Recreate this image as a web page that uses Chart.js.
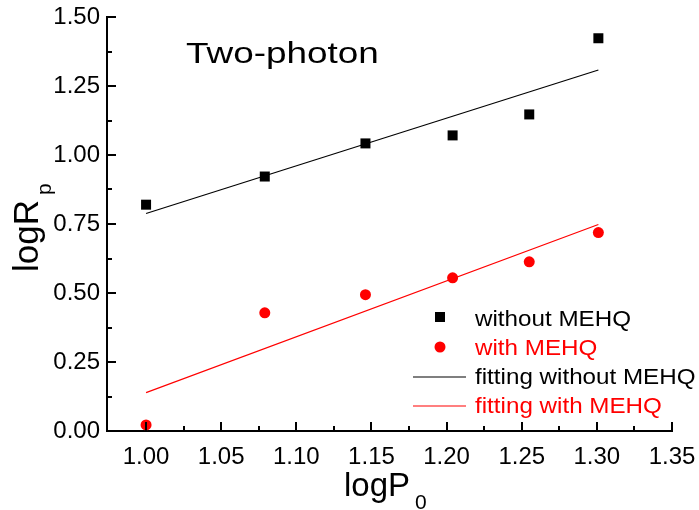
<!DOCTYPE html>
<html>
<head>
<meta charset="utf-8">
<script src="https://cdn.jsdelivr.net/npm/chart.js@4/dist/chart.umd.min.js"></script>
<style>
  html, body { margin: 0; padding: 0; background: #fff; }
  #wrap { width: 699px; height: 510px; }
</style>
</head>
<body>
<div id="wrap"><canvas id="c" width="699" height="510"></canvas></div>
<script>
// ---- data ----
const logP0 = [1.000, 1.079, 1.146, 1.204, 1.255, 1.301];
const withoutMEHQ = [0.82, 0.922, 1.042, 1.071, 1.147, 1.423];
const withMEHQ = [0.022, 0.428, 0.494, 0.555, 0.613, 0.719];
const fitX = [1.000, 1.301];
const fitWithout = [0.788, 1.308];
const fitWith = [0.139, 0.748];
const xTickValues = [1.00, 1.05, 1.10, 1.15, 1.20, 1.25, 1.30, 1.35];
const yTickValues = [0.00, 0.25, 0.50, 0.75, 1.00, 1.25, 1.50];
const legendLabels = ["without MEHQ", "with MEHQ", "fitting without MEHQ", "fitting with MEHQ"];
const annotationText = "Two-photon";

const FONT = "'Liberation Sans', Arial, Helvetica, sans-serif";
const RED = "#ff0000";

function pts(xs, ys) { return xs.map((x, i) => ({ x: x, y: ys[i] })); }

const decorPlugin = {
  id: 'decor',
  afterDraw(chart) {
    const ctx = chart.ctx;
    const xs = chart.scales.x, ys = chart.scales.y;
    const a = chart.chartArea;
    ctx.save();
    // inward ticks
    ctx.strokeStyle = '#000';
    ctx.lineWidth = 2;
    ctx.beginPath();
    xTickValues.forEach((v, i) => {
      const px = Math.round(xs.getPixelForValue(v));
      ctx.moveTo(px, a.bottom); ctx.lineTo(px, a.bottom - 9);
      if (i < xTickValues.length - 1) {
        const pm = Math.round(xs.getPixelForValue((v + xTickValues[i + 1]) / 2));
        ctx.moveTo(pm, a.bottom); ctx.lineTo(pm, a.bottom - 5);
      }
    });
    yTickValues.forEach((v, i) => {
      const py = Math.round(ys.getPixelForValue(v));
      ctx.moveTo(a.left, py); ctx.lineTo(a.left + 9, py);
      if (i < yTickValues.length - 1) {
        const pm = Math.round(ys.getPixelForValue((v + yTickValues[i + 1]) / 2));
        ctx.moveTo(a.left, pm); ctx.lineTo(a.left + 5, pm);
      }
    });
    ctx.stroke();

    // annotation text
    ctx.fillStyle = '#000';
    ctx.textBaseline = 'alphabetic';
    ctx.textAlign = 'left';
    ctx.save();
    ctx.translate(186, 63);
    ctx.scale(1.23, 1);
    ctx.font = "30px " + FONT;
    ctx.fillText(annotationText, 0, 0);
    ctx.restore();

    // x axis title logP0
    ctx.font = "33px " + FONT;
    ctx.fillText("logP", 344, 496);
    ctx.font = "21px " + FONT;
    ctx.fillText("0", 415, 509);

    // y axis title logRp (rotated)
    ctx.save();
    ctx.translate(38, 272);
    ctx.rotate(-Math.PI / 2);
    ctx.font = "35px " + FONT;
    ctx.fillText("logR", 0, 0);
    ctx.font = "21px " + FONT;
    ctx.fillText("p", 77, 13);
    ctx.restore();

    // legend
    const colors = ['#000', RED, '#000', RED];
    const baselines = [326, 355, 384, 413];
    ctx.fillStyle = '#000';
    ctx.fillRect(435, 312, 10, 10);
    ctx.fillStyle = RED;
    ctx.beginPath(); ctx.arc(440, 347, 5.5, 0, Math.PI * 2); ctx.fill();
    ctx.lineWidth = 1.2;
    ctx.strokeStyle = '#000';
    ctx.beginPath(); ctx.moveTo(413, 377); ctx.lineTo(466, 377); ctx.stroke();
    ctx.strokeStyle = RED;
    ctx.beginPath(); ctx.moveTo(413, 406); ctx.lineTo(466, 406); ctx.stroke();
    legendLabels.forEach((t, i) => {
      ctx.save();
      ctx.translate(475, baselines[i]);
      ctx.scale(1.1, 1);
      ctx.font = "22px " + FONT;
      ctx.fillStyle = colors[i];
      ctx.fillText(t, 0, 0);
      ctx.restore();
    });
    ctx.restore();
  }
};

new Chart(document.getElementById('c'), {
  type: 'scatter',
  data: {
    datasets: [
      { label: legendLabels[0], data: pts(logP0, withoutMEHQ), pointStyle: 'rect', pointRadius: 7.07,
        backgroundColor: '#000', borderWidth: 0, showLine: false, order: 1 },
      { label: legendLabels[1], data: pts(logP0, withMEHQ), pointStyle: 'circle', pointRadius: 5.5,
        backgroundColor: RED, borderWidth: 0, showLine: false, order: 1 },
      { label: legendLabels[2], data: pts(fitX, fitWithout), showLine: true, pointRadius: 0,
        borderColor: '#000', borderWidth: 1.2, order: 2 },
      { label: legendLabels[3], data: pts(fitX, fitWith), showLine: true, pointRadius: 0,
        borderColor: RED, borderWidth: 1.2, order: 2 }
    ]
  },
  options: {
    responsive: false,
    animation: false,
    devicePixelRatio: 1,
    layout: { padding: { left: 0, right: 27, top: 17, bottom: 0 } },
    plugins: { legend: { display: false }, tooltip: { enabled: false } },
    scales: {
      x: {
        type: 'linear', min: 0.974, max: 1.35,
        afterBuildTicks: (s) => { s.ticks = xTickValues.map(v => ({ value: v })); },
        afterFit: (s) => { s.height = 79; s.paddingLeft = 0; s.paddingRight = 0; },
        grid: { display: false, drawTicks: false },
        border: { display: true, color: '#000', width: 2 },
        ticks: { color: '#000', font: { family: FONT, size: 24 }, padding: 12,
                 maxRotation: 0, autoSkip: false,
                 callback: (v) => Number(v).toFixed(2) }
      },
      y: {
        type: 'linear', min: 0, max: 1.5,
        afterBuildTicks: (s) => { s.ticks = yTickValues.map(v => ({ value: v })); },
        afterFit: (s) => { s.width = 107; s.paddingTop = 0; s.paddingBottom = 0; },
        grid: { display: false, drawTicks: false },
        border: { display: true, color: '#000', width: 2 },
        ticks: { color: '#000', font: { family: FONT, size: 24 }, padding: 7,
                 autoSkip: false,
                 callback: (v) => Number(v).toFixed(2) }
      }
    }
  },
  plugins: [decorPlugin]
});
</script>
</body>
</html>
